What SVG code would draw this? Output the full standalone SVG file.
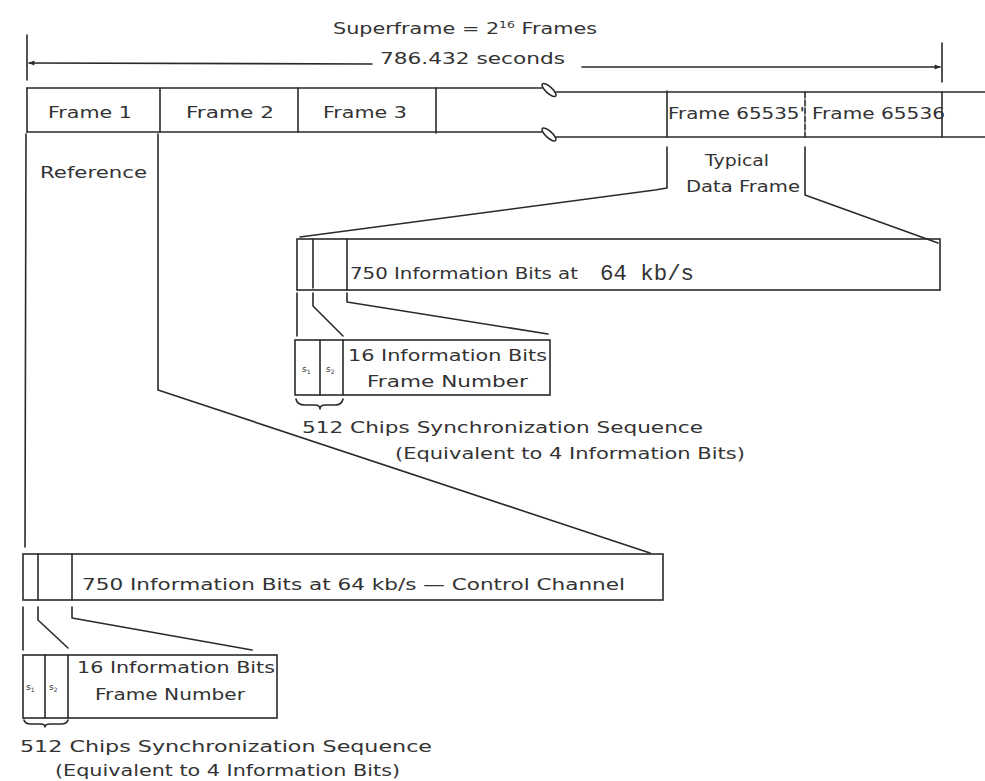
<svg xmlns="http://www.w3.org/2000/svg" width="985" height="781" viewBox="0 0 985 781">
<defs>
<style>
.ln{fill:none;stroke:#2a2a2a;stroke-width:1.6;stroke-linejoin:round;stroke-linecap:round}
.bx{fill:#ffffff;stroke:#2a2a2a;stroke-width:1.6}
.t{font-family:"DejaVu Sans","Liberation Sans",sans-serif;font-size:15px;fill:#333333}
.m{font-family:"Liberation Mono","DejaVu Sans Mono",monospace;font-size:22px;fill:#333333}
.s{font-family:"DejaVu Sans","Liberation Sans",sans-serif;font-size:9px;fill:#333333}
</style>
<marker id="ah" viewBox="0 0 10 10" refX="9" refY="5" markerWidth="8" markerHeight="6" orient="auto-start-reverse" markerUnits="userSpaceOnUse">
<path d="M0,1 L10,5 L0,9 Z" fill="#2a2a2a"/>
</marker>
</defs>
<rect width="985" height="781" fill="#ffffff"/>

<g id="superframe-label">
<text class="t" x="333" y="34" textLength="264" lengthAdjust="spacingAndGlyphs">Superframe = 2<tspan font-size="9" dy="-6">16</tspan><tspan dy="6"> Frames</tspan></text>
<text class="t" x="380" y="64" textLength="185" lengthAdjust="spacingAndGlyphs">786.432 seconds</text>
</g>

<g id="frame-row">
<path class="ln" d="M27,88 L542,88 M556,92 L985,92 M27,132 L542,132 M556,137 L985,137"/>
<ellipse class="ln" cx="549" cy="90" rx="9" ry="3.2" transform="rotate(42 549 90)"/>
<ellipse class="ln" cx="549" cy="134.5" rx="9" ry="3.2" transform="rotate(42 549 134.5)"/>
<path class="ln" d="M27,88 L27,132 M160,88 L160,132 M298,88 L298,132 M436,88 L436,133 M667,91 L667,137 M942,92 L942,137"/>
<path class="ln" d="M805,92 L805,137" stroke-dasharray="6 2"/>
</g>
<g id="frame-1"><text class="t" x="48" y="118" textLength="84" lengthAdjust="spacingAndGlyphs">Frame 1</text></g>
<g id="frame-2"><text class="t" x="186" y="118" textLength="88" lengthAdjust="spacingAndGlyphs">Frame 2</text></g>
<g id="frame-3"><text class="t" x="323" y="118" textLength="84" lengthAdjust="spacingAndGlyphs">Frame 3</text></g>
<g id="frame-65535"><text class="t" x="668" y="119" textLength="137" lengthAdjust="spacingAndGlyphs">Frame 65535'</text></g>
<g id="frame-65536"><text class="t" x="812" y="119" textLength="133" lengthAdjust="spacingAndGlyphs">Frame 65536</text></g>

<g id="reference-label"><text class="t" x="40" y="178" textLength="107" lengthAdjust="spacingAndGlyphs">Reference</text></g>
<g id="typical-label">
<text class="t" x="737" y="166" text-anchor="middle" textLength="64" lengthAdjust="spacingAndGlyphs">Typical</text>
<text class="t" x="686" y="192" textLength="114" lengthAdjust="spacingAndGlyphs">Data Frame</text>
</g>

<g id="typical-data-frame">
<rect class="bx" x="297" y="239" width="643" height="51"/>
<path class="ln" d="M313,239 L313,288 M347,239 L347,290"/>
<text class="t" x="350" y="279" textLength="228" lengthAdjust="spacingAndGlyphs">750 Information Bits at</text>
<text class="m" x="600" y="280" textLength="94" lengthAdjust="spacingAndGlyphs">64 kb/s</text>
</g>

<g id="typical-sync-box">
<rect class="bx" x="295" y="340" width="255" height="55"/>
<path class="ln" d="M320,340 L320,395 M343,340 L343,395"/>
<text class="s" x="302" y="372">s<tspan font-size="6" dy="2">1</tspan></text>
<text class="s" x="326" y="372">s<tspan font-size="6" dy="2">2</tspan></text>
<text class="t" x="348" y="361" textLength="199" lengthAdjust="spacingAndGlyphs">16 Information Bits</text>
<text class="t" x="367" y="387" textLength="161" lengthAdjust="spacingAndGlyphs">Frame Number</text>
</g>
<g id="typical-sync-note">
<path class="ln" d="M296,399 Q297,405 305,405 L315,405 Q320,405 320,409 Q320,405 325,405 L335,405 Q342,405 343,399"/>
<text class="t" x="302" y="433" textLength="401" lengthAdjust="spacingAndGlyphs">512 Chips Synchronization Sequence</text>
<text class="t" x="395" y="459" textLength="350" lengthAdjust="spacingAndGlyphs">(Equivalent to 4 Information Bits)</text>
</g>

<g id="control-channel-frame">
<rect class="bx" x="23" y="554" width="640" height="46"/>
<path class="ln" d="M38,554 L38,600 M72,554 L72,600"/>
<text class="t" x="82" y="590" textLength="543" lengthAdjust="spacingAndGlyphs">750 Information Bits at 64 kb/s — Control Channel</text>
</g>

<g id="control-sync-box">
<rect class="bx" x="23" y="655" width="254" height="63"/>
<path class="ln" d="M45,655 L45,718 M68,655 L68,718"/>
<text class="s" x="26" y="690">s<tspan font-size="6" dy="2">1</tspan></text>
<text class="s" x="49" y="690">s<tspan font-size="6" dy="2">2</tspan></text>
<text class="t" x="77" y="673" textLength="198" lengthAdjust="spacingAndGlyphs">16 Information Bits</text>
<text class="t" x="95" y="700" textLength="150" lengthAdjust="spacingAndGlyphs">Frame Number</text>
</g>
<g id="control-sync-note">
<path class="ln" d="M24,720 Q25,724 31,724 L41,724 Q45,724 45,727 Q45,724 50,724 L61,724 Q67,724 68,720"/>
<text class="t" x="20" y="752" textLength="412" lengthAdjust="spacingAndGlyphs">512 Chips Synchronization Sequence</text>
<text class="t" x="55" y="776" textLength="345" lengthAdjust="spacingAndGlyphs">(Equivalent to 4 Information Bits)</text>
</g>

<g id="connectors">
<path class="ln" d="M27,35 L27,80 M942,43 L942,82"/>
<path class="ln" d="M372,64 L29,63" marker-end="url(#ah)"/>
<path class="ln" d="M582,67 L940,67" marker-end="url(#ah)"/>
<path class="ln" d="M26,134 L25,547"/>
<path class="ln" d="M158,134 L158,390 L650,553"/>
<path class="ln" d="M667,147 L667,188 L655,190 L300,237"/>
<path class="ln" d="M805,147 L805,195 L938,243"/>
<path class="ln" d="M297,293 L297,336 M313,293 L313,306 L343,336 M347,293 L347,302 L548,334"/>
<path class="ln" d="M23,607 L23,650 M38,607 L38,620 L68,648 M72,607 L72,618 L252,650"/>
</g>
</svg>
